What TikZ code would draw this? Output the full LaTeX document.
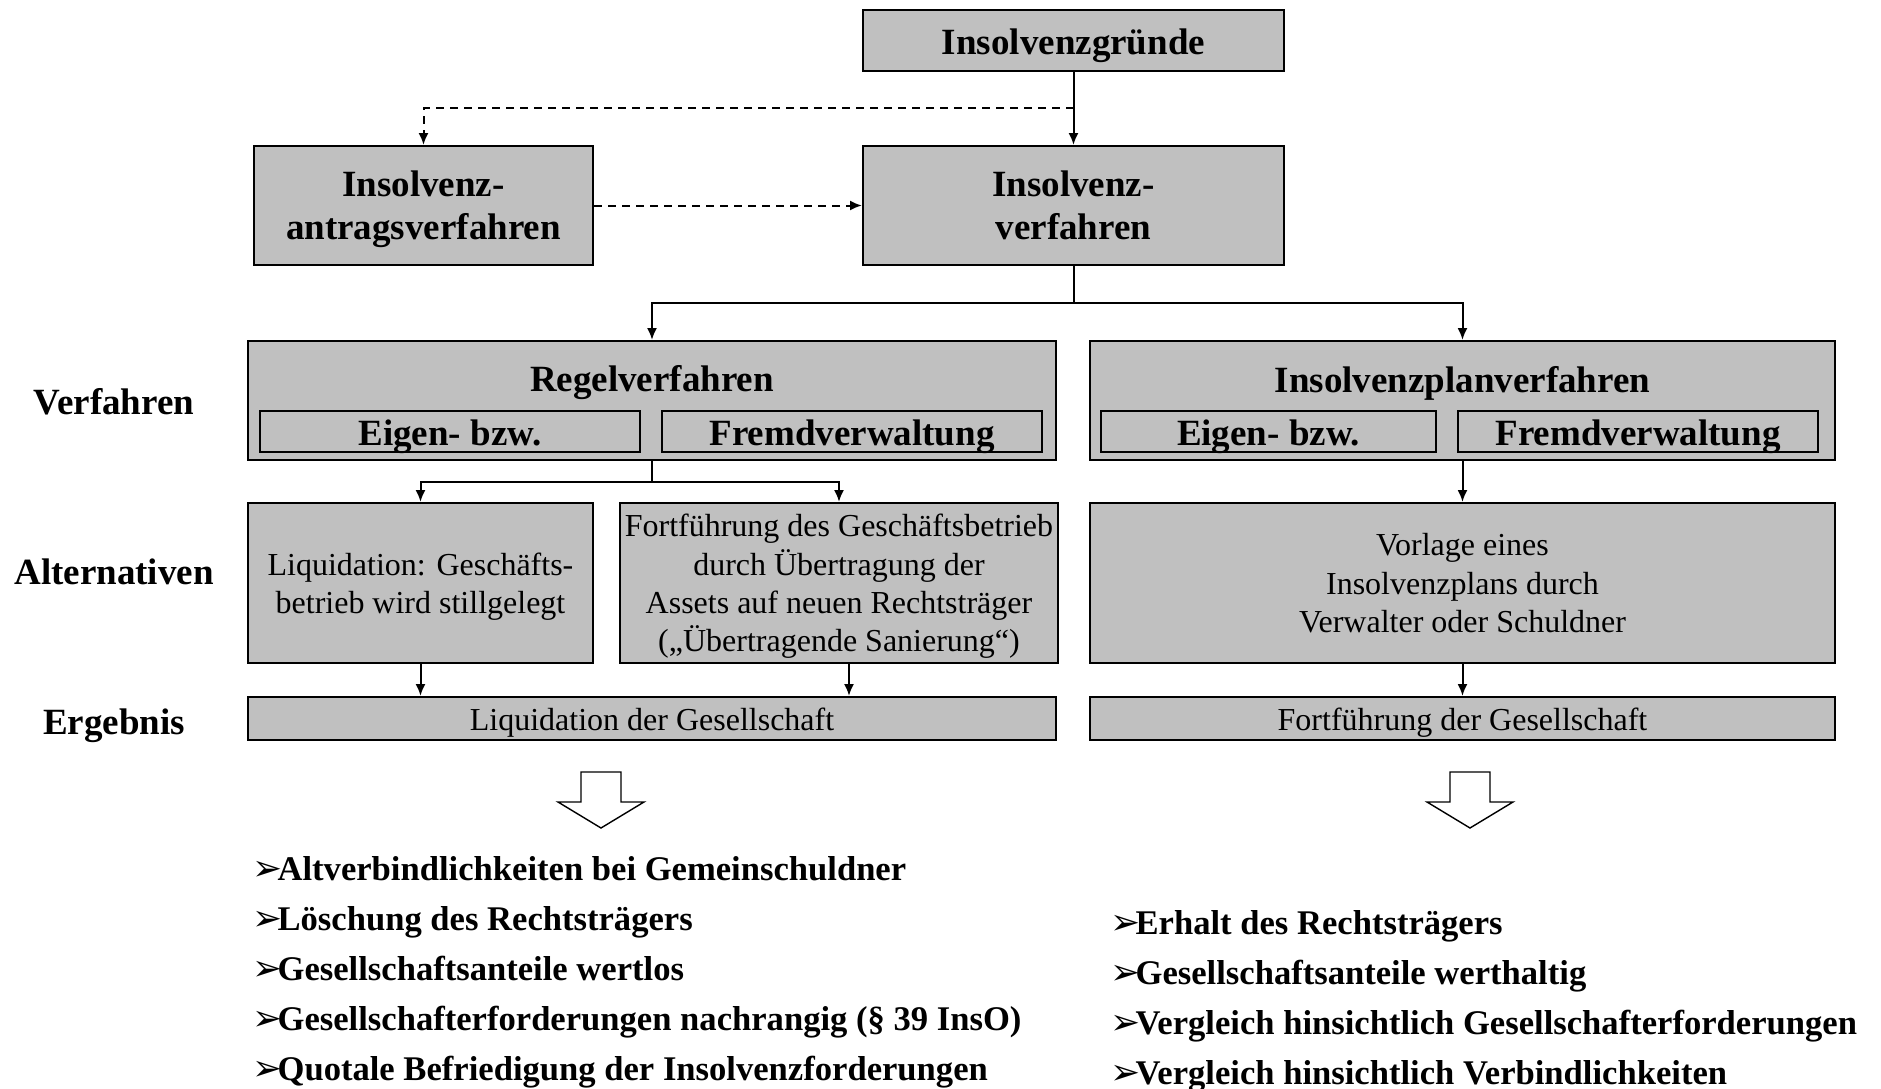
\documentclass[tikz,border=0pt]{standalone}
\usepackage{fontspec}
\setmainfont{Liberation Serif}
\newfontfamily\symfont{DejaVu Sans}
\usetikzlibrary{arrows.meta}
\definecolor{boxgray}{RGB}{192,192,192}
\newcommand{\bulletmark}{\makebox[12.6pt][l]{\symfont\fontsize{18}{18}\selectfont ➢}}
\tikzset{
	graybox/.style={draw=black,line width=1pt,fill=boxgray,inner sep=0pt,align=center,
		execute at begin node={\rule{0pt}{0.98em}},execute at end node={\rule[-0.22em]{0pt}{0pt}}},
	innerbox/.style={draw=black,line width=1pt,inner sep=0pt,minimum height=20.5pt,text height=17pt,text depth=3pt},
	bigtext/.style={font=\bfseries\fontsize{18.5}{21.6}\selectfont},
	smalltext/.style={font=\fontsize{16}{19.2}\selectfont},
	itemtext/.style={inner sep=0pt,anchor=base west,font=\bfseries\fontsize{17.3}{20}\selectfont},
	conn/.style={line width=1pt,-{Latex[length=6pt,width=5pt]}},
	dashconn/.style={conn,dash pattern=on 4pt off 3pt},
	down arrow/.pic={
		\draw[line width=0.7pt,fill=white] (-20,0) -- (20,0) -- (20,30) -- (43,30) -- (0,56) -- (-43,30) -- (-20,30) -- cycle;
	},
}
\begin{document}
\begin{tikzpicture}[x=0.5pt,y=-0.5pt]
	\useasboundingbox (0,0) rectangle (1881,1088);
	% top row
	\node[graybox,bigtext,minimum width=210.5pt,minimum height=30.5pt] (gruende) at (1073.5,40.5) {Insolvenzgründe};
	\node[graybox,bigtext,text depth=-3.5pt,minimum width=169.5pt,minimum height=59.5pt] (antrag) at (423.5,205.5) {Insolvenz-\\antragsverfahren};
	\node[graybox,bigtext,text depth=-3.5pt,minimum width=210.5pt,minimum height=59.5pt] (verf) at (1073.5,205.5) {Insolvenz-\\verfahren};
	\coordinate (split) at (1073.5,108);
	\draw[conn] (gruende) -- (verf);
	\draw[dashconn] (split) -| (antrag.north);
	\draw[dashconn] (antrag) -- (verf);
	% Verfahren
	\node[graybox,minimum width=404pt,minimum height=59.5pt] (regel) at (652,400.5) {};
	\node[bigtext] (regeltitle) at (652,383) {Regelverfahren};
	\node[innerbox,bigtext,minimum width=190pt] (regeleigen) at (450,431.5) {Eigen- bzw.};
	\node[innerbox,bigtext,minimum width=190pt] (regelfremd) at (852,431.5) {Fremdverwaltung};
	\node[graybox,minimum width=372.5pt,minimum height=59.5pt] (plan) at (1462.5,400.5) {};
	\node[bigtext] (plantitle) at (1462.5,383) {Insolvenzplanverfahren};
	\node[innerbox,bigtext,minimum width=167.5pt] (planeigen) at (1268.5,431.5) {Eigen- bzw.};
	\node[innerbox,bigtext,minimum width=180pt] (planfremd) at (1638,431.5) {Fremdverwaltung};
	\coordinate (fork1) at (1073.5,303);
	\draw[line width=1pt] (verf) -- (fork1);
	\draw[conn] (fork1) -| (regel.north);
	\draw[conn] (fork1) -| (plan.north);
	% Alternativen
	\node[graybox,smalltext,text depth=-3.5pt,minimum width=172.5pt,minimum height=80pt] (liq) at (420.5,583) {Liquidation: Geschäfts-\\betrieb wird stillgelegt};
	\node[graybox,smalltext,text depth=-3.5pt,minimum width=219pt,minimum height=80pt] (fort) at (839,583) {Fortführung des Geschäftsbetrieb\\durch Übertragung der\\Assets auf neuen Rechtsträger\\(„Übertragende Sanierung“)};
	\node[graybox,smalltext,text depth=-3.5pt,minimum width=372.5pt,minimum height=80pt] (vorl) at (1462.5,583) {Vorlage eines\\Insolvenzplans durch\\Verwalter oder Schuldner};
	\coordinate (fork2) at (652,482);
	\draw[line width=1pt] (regel) -- (fork2);
	\draw[conn] (fork2) -| (liq.north);
	\draw[conn] (fork2) -| (fort.north);
	\draw[conn] (plan) -- (vorl);
	% Ergebnis
	\node[graybox,smalltext,minimum width=404pt,minimum height=21.5pt] (erg1) at (652,718.5) {Liquidation der Gesellschaft};
	\node[graybox,smalltext,minimum width=372.5pt,minimum height=21.5pt] (erg2) at (1462.5,718.5) {Fortführung der Gesellschaft};
	\draw[conn] (liq.south) -- (liq.south |- erg1.north);
	\draw[conn] ([xshift=5pt]fort.south) -- ([xshift=5pt]fort.south |- erg1.north);
	\draw[conn] (vorl) -- (erg2);
	% left labels
	\node[bigtext] (lblverf) at (114,402) {Verfahren};
	\node[bigtext] (lblalt) at (114,572) {Alternativen};
	\node[bigtext] (lblerg) at (114,726) {Ergebnis};
	% consequences
	\pic at (601,772) {down arrow};
	\pic at (1470,772) {down arrow};
	\foreach \txt [count=\i] in {Altverbindlichkeiten bei Gemeinschuldner,Löschung des Rechtsträgers,Gesellschaftsanteile wertlos,Gesellschafterforderungen nachrangig (§ 39 InsO),Quotale Befriedigung der Insolvenzforderungen}
		\node[itemtext] (leftitem\i) at (252,830.5+50*\i) {\bulletmark\txt};
	\foreach \txt [count=\i] in {Erhalt des Rechtsträgers,Gesellschaftsanteile werthaltig,Vergleich hinsichtlich Gesellschafterforderungen,Vergleich hinsichtlich Verbindlichkeiten}
		\node[itemtext] (rightitem\i) at (1110,884.5+50*\i) {\bulletmark\txt};
\end{tikzpicture}
\end{document}
